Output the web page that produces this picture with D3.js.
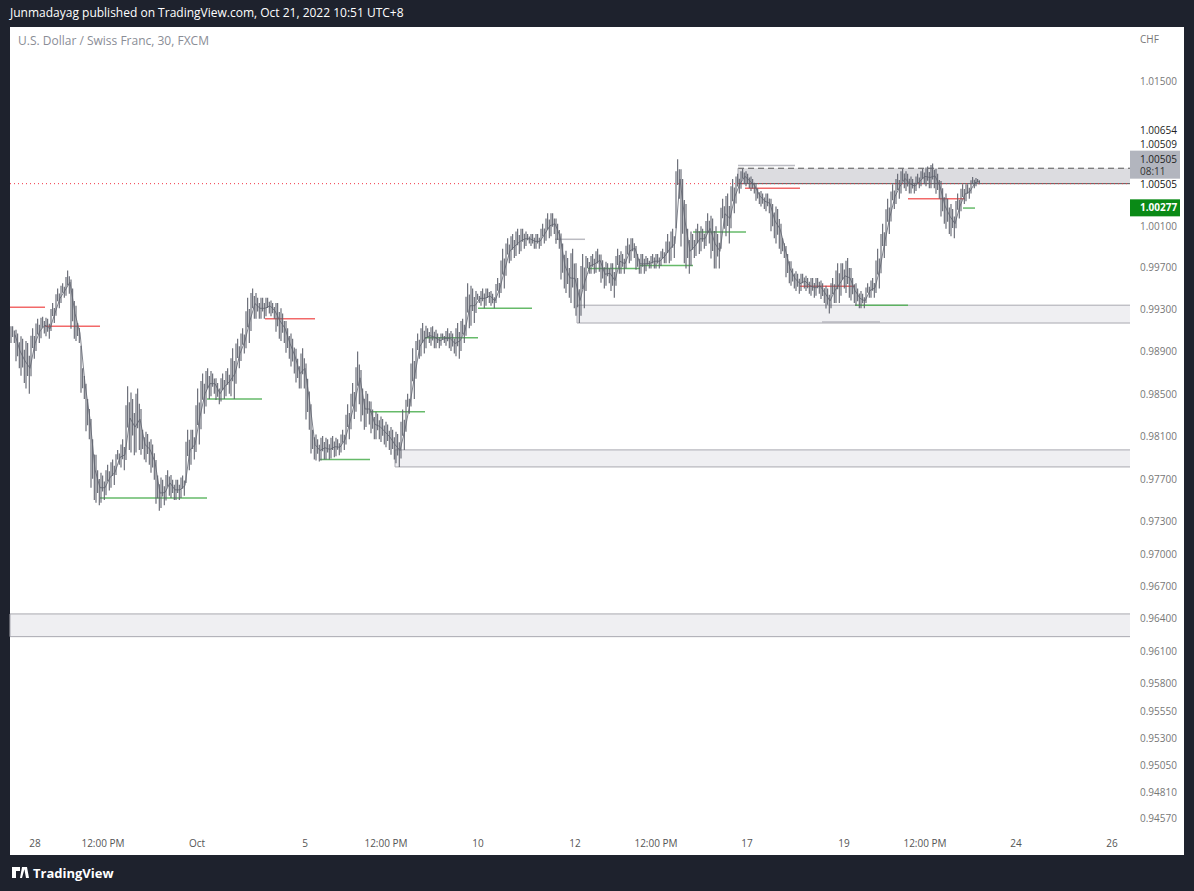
<!DOCTYPE html>
<html><head><meta charset="utf-8">
<script src="https://cdn.jsdelivr.net/npm/d3@7/dist/d3.min.js"></script>
<style>body{margin:0;background:#1e222d;font-family:"Open Sans",Roboto,sans-serif}</style>
</head><body><svg id="c" width="1194" height="891"></svg>
<script>
const highs=[0.9914,0.9907,0.9902,0.9898,0.9912,0.9921,0.9923,0.9921,0.9936,0.9950,0.9955,0.9967,0.9950,0.9917,0.9874,0.9845,0.9807,0.9778,0.9773,0.9783,0.9788,0.9797,0.9807,0.9857,0.9845,0.9855,0.9816,0.9812,0.9802,0.9773,0.9769,0.9778,0.9769,0.9769,0.9773,0.9816,0.9816,0.9855,0.9869,0.9874,0.9869,0.9860,0.9869,0.9874,0.9893,0.9902,0.9912,0.9941,0.9950,0.9941,0.9941,0.9941,0.9936,0.9936,0.9926,0.9912,0.9902,0.9883,0.9893,0.9864,0.9816,0.9807,0.9810,0.9807,0.9810,0.9807,0.9816,0.9840,0.9860,0.9890,0.9855,0.9850,0.9835,0.9831,0.9826,0.9821,0.9816,0.9812,0.9835,0.9850,0.9893,0.9907,0.9917,0.9912,0.9914,0.9907,0.9907,0.9912,0.9907,0.9917,0.9921,0.9955,0.9950,0.9945,0.9950,0.9950,0.9945,0.9960,0.9988,0.9998,1.0002,1.0007,1.0007,1.0002,1.0002,1.0002,1.0012,1.0022,1.0022,1.0012,0.9993,0.9979,0.9988,0.9960,0.9983,0.9979,0.9983,0.9988,0.9977,0.9974,0.9974,0.9988,0.9983,0.9998,0.9998,0.9983,0.9983,0.9979,0.9983,0.9983,0.9988,1.0002,1.0007,1.0074,1.0055,1.0007,1.0002,1.0012,1.0007,1.0022,1.0017,1.0002,1.0036,1.0041,1.0055,1.0060,1.0065,1.0060,1.0055,1.0046,1.0041,1.0041,1.0031,1.0026,0.9998,0.9983,0.9969,0.9964,0.9964,0.9960,0.9960,0.9960,0.9955,0.9950,0.9960,0.9974,0.9974,0.9979,0.9960,0.9950,0.9945,0.9955,0.9960,0.9988,1.0012,1.0036,1.0050,1.0060,1.0065,1.0060,1.0055,1.0060,1.0065,1.0067,1.0070,1.0060,1.0046,1.0036,1.0026,1.0041,1.0050,1.0050,1.0057,1.0055];
const lows=[0.9898,0.9874,0.9860,0.9850,0.9883,0.9898,0.9907,0.9902,0.9917,0.9931,0.9941,0.9945,0.9902,0.9898,0.9845,0.9807,0.9750,0.9745,0.9750,0.9759,0.9764,0.9783,0.9778,0.9797,0.9792,0.9797,0.9788,0.9783,0.9769,0.9740,0.9745,0.9754,0.9750,0.9750,0.9754,0.9778,0.9788,0.9802,0.9831,0.9845,0.9850,0.9840,0.9845,0.9850,0.9845,0.9874,0.9888,0.9898,0.9921,0.9921,0.9921,0.9926,0.9921,0.9902,0.9898,0.9883,0.9869,0.9855,0.9855,0.9816,0.9788,0.9786,0.9788,0.9788,0.9790,0.9792,0.9797,0.9807,0.9826,0.9840,0.9816,0.9821,0.9807,0.9807,0.9802,0.9797,0.9788,0.9781,0.9797,0.9831,0.9845,0.9883,0.9888,0.9898,0.9893,0.9893,0.9898,0.9893,0.9888,0.9883,0.9898,0.9912,0.9917,0.9936,0.9931,0.9936,0.9931,0.9941,0.9950,0.9974,0.9979,0.9983,0.9988,0.9993,0.9988,0.9988,0.9993,0.9998,1.0002,0.9988,0.9950,0.9941,0.9931,0.9917,0.9931,0.9964,0.9964,0.9966,0.9950,0.9955,0.9941,0.9964,0.9964,0.9974,0.9979,0.9964,0.9964,0.9969,0.9969,0.9969,0.9974,0.9974,0.9979,1.0036,0.9974,0.9964,0.9979,0.9983,0.9988,0.9993,0.9969,0.9969,1.0007,0.9993,1.0022,1.0041,1.0050,1.0046,1.0041,1.0031,1.0026,1.0022,0.9998,0.9988,0.9979,0.9955,0.9950,0.9945,0.9950,0.9945,0.9941,0.9945,0.9936,0.9926,0.9936,0.9936,0.9950,0.9941,0.9936,0.9931,0.9931,0.9941,0.9941,0.9950,0.9979,1.0002,1.0026,1.0036,1.0046,1.0041,1.0041,1.0046,1.0050,1.0046,1.0046,1.0036,1.0012,1.0002,0.9998,1.0017,1.0031,1.0036,1.0046,1.0050];
const barStart=1;
const priceTicks=[1.015,1.001,0.997,0.993,0.989,0.985,0.981,0.977,0.973,0.970,0.967,0.964,0.961,0.958,0.9555,0.953,0.9505,0.9481,0.9457];
const timeLabels=["28","12:00 PM","Oct","5","12:00 PM","10","12","12:00 PM","17","19","12:00 PM","24","26"];
const timePos=[5,18.6,37.4,59,75.2,93.6,113,129.2,147.4,166.8,183,201.2,220.4];
const zones=[{s:145.6,p1:1.00654,p2:1.00505,top:"dash",fill:"#dcdce0"},{s:113.4,p1:0.9934,p2:0.9917,fill:"#efeff2"},{s:77,p1:0.9797,p2:0.9781,fill:"#efeff2"},{s:0,p1:0.9644,p2:0.9623,fill:"#efeff2"}];
const levels=[[0,7,0.9932,"r"],[7,18,0.9914,"r"],[51,61,0.9921,"r"],[147,158,1.0046,"r"],[158,169,0.9952,"r"],[179.6,191,1.0036,"r"],
[18,39.4,0.9752,"g"],[39.4,50.4,0.9845,"g"],[62,72,0.9788,"g"],[72,83,0.9833,"g"],[83,93.6,0.9903,"g"],[93.6,104.4,0.9931,"g"],[115.6,126,0.9969,"g"],[126,136.6,0.9972,"g"],[136.6,147.2,1.0004,"g"],[169,179.6,0.9934,"g"],[190.6,193,1.0027,"g"],
[109,115,0.9997,"k"],[145.6,157,1.0068,"k"],[162.4,174,0.9918,"k"]];
const lastPrice=1.00505, bidPrice=1.00277;

const svg=d3.select("#c");
const L=10,R=1130,T=27,B=855;
svg.append("text").attr("x",10).attr("y",17).attr("fill","#fff").attr("font-size",12).text("Junmadayag published on TradingView.com, Oct 21, 2022 10:51 UTC+8");
svg.append("rect").attr("x",L).attr("y",T).attr("width",1174).attr("height",B-T).attr("fill","#fff");
svg.append("text").attr("x",18).attr("y",45).attr("fill","#8a8d96").attr("font-size",12).text("U.S. Dollar / Swiss Franc, 30, FXCM");
const x=d3.scaleLinear().domain([0,224]).range([L,R]);
const y=d3.scaleLog().domain([1.015,0.9457]).range([81,818]);
const g=svg.append("g");
zones.forEach(z=>{
  g.append("rect").attr("x",x(z.s)).attr("y",y(z.p1)).attr("width",R-x(z.s)).attr("height",y(z.p2)-y(z.p1)).attr("fill",z.fill);
  g.append("line").attr("x1",x(z.s)).attr("x2",R).attr("y1",y(z.p1)).attr("y2",y(z.p1)).attr("stroke",z.top?"#555":"#a8a8b0").attr("stroke-dasharray",z.top?"6,4":null);
  g.append("line").attr("x1",x(z.s)).attr("x2",R).attr("y1",y(z.p2)).attr("y2",y(z.p2)).attr("stroke",z.top?"#555":"#a8a8b0");
  g.append("line").attr("x1",x(z.s)).attr("x2",x(z.s)).attr("y1",y(z.p1)).attr("y2",y(z.p2)).attr("stroke","#a8a8b0");
});
const col={r:"#f05050",g:"#4caf50",k:"#b0b0b8"};
levels.forEach(l=>g.append("line").attr("x1",x(l[0])).attr("x2",x(l[1])).attr("y1",y(l[2])).attr("y2",y(l[2])).attr("stroke",col[l[3]]).attr("stroke-width",1.5).attr("opacity",0.85));
g.append("line").attr("x1",L).attr("x2",R).attr("y1",y(lastPrice)).attr("y2",y(lastPrice)).attr("stroke","#f23645").attr("stroke-dasharray","1,3");
const bars=highs.map((h,i)=>({i:i+barStart,h,l:lows[i]}));
bars.forEach((b,k)=>{
  const prev=k>0?bars[k-1]:b;
  const r=b.h-b.l;
  // sub-bars within each 5px slot, spanning from previous bar's level to current
  const segs=[[Math.max(b.h-r*0.3,(prev.h+b.h)/2),Math.min(b.l+r*0.2,(prev.l+b.l)/2)],[b.h,b.l+r*0.35],[b.h-r*0.25,b.l]];
  segs.forEach((s,j)=>g.append("line").attr("x1",x(b.i-1+0.2+j*0.33)).attr("x2",x(b.i-1+0.2+j*0.33))
    .attr("y1",y(s[0])).attr("y2",y(s[1])).attr("stroke","#60636e").attr("stroke-width",1.1));
});
g.append("path").datum(bars).attr("fill","none").attr("stroke","#60636e").attr("stroke-width",0.8)
 .attr("d",d3.line().x(d=>x(d.i)).y(d=>y((d.h+d.l)/2)));
svg.append("text").attr("x",1140).attr("y",43).attr("fill","#777").attr("font-size",10).text("CHF");
const ax=svg.append("g");
priceTicks.forEach(p=>ax.append("text").attr("x",1140).attr("y",y(p)+4).attr("fill","#777").attr("font-size",10).text(p.toFixed(5)));
ax.append("text").attr("x",1140).attr("y",134).attr("fill","#222").attr("font-size",10).text("1.00654");
ax.append("text").attr("x",1140).attr("y",148).attr("fill","#222").attr("font-size",10).text("1.00509");
ax.append("rect").attr("x",1130).attr("y",y(lastPrice)-33).attr("width",50).attr("height",28).attr("fill","#b2b5be");
ax.append("text").attr("x",1140).attr("y",y(lastPrice)-21).attr("fill","#222").attr("font-size",10).text("1.00505");
ax.append("text").attr("x",1140).attr("y",y(lastPrice)-9).attr("fill","#333").attr("font-size",10).text("08:11");
ax.append("text").attr("x",1140).attr("y",y(lastPrice)+4).attr("fill","#111").attr("font-size",10).text(lastPrice.toFixed(5));
ax.append("rect").attr("x",1130).attr("y",y(bidPrice)-8).attr("width",50).attr("height",17).attr("fill","#0a8a16");
ax.append("text").attr("x",1140).attr("y",y(bidPrice)+4).attr("fill","#fff").attr("font-size",10).attr("font-weight","bold").text(bidPrice.toFixed(5));
timeLabels.forEach((t,i)=>svg.append("text").attr("x",x(timePos[i])).attr("y",847).attr("text-anchor","middle").attr("fill","#555").attr("font-size",10).text(t));
svg.append("text").attr("x",33).attr("y",878).attr("fill","#fff").attr("font-size",13).attr("font-weight","bold").text("TradingView");
svg.append("path").attr("d","M12 867h8v4h-4v7h-4zM22 867h3l-3 11h-2z M24 867h3l2 11h-3z").attr("fill","#fff");
</script></body></html>
